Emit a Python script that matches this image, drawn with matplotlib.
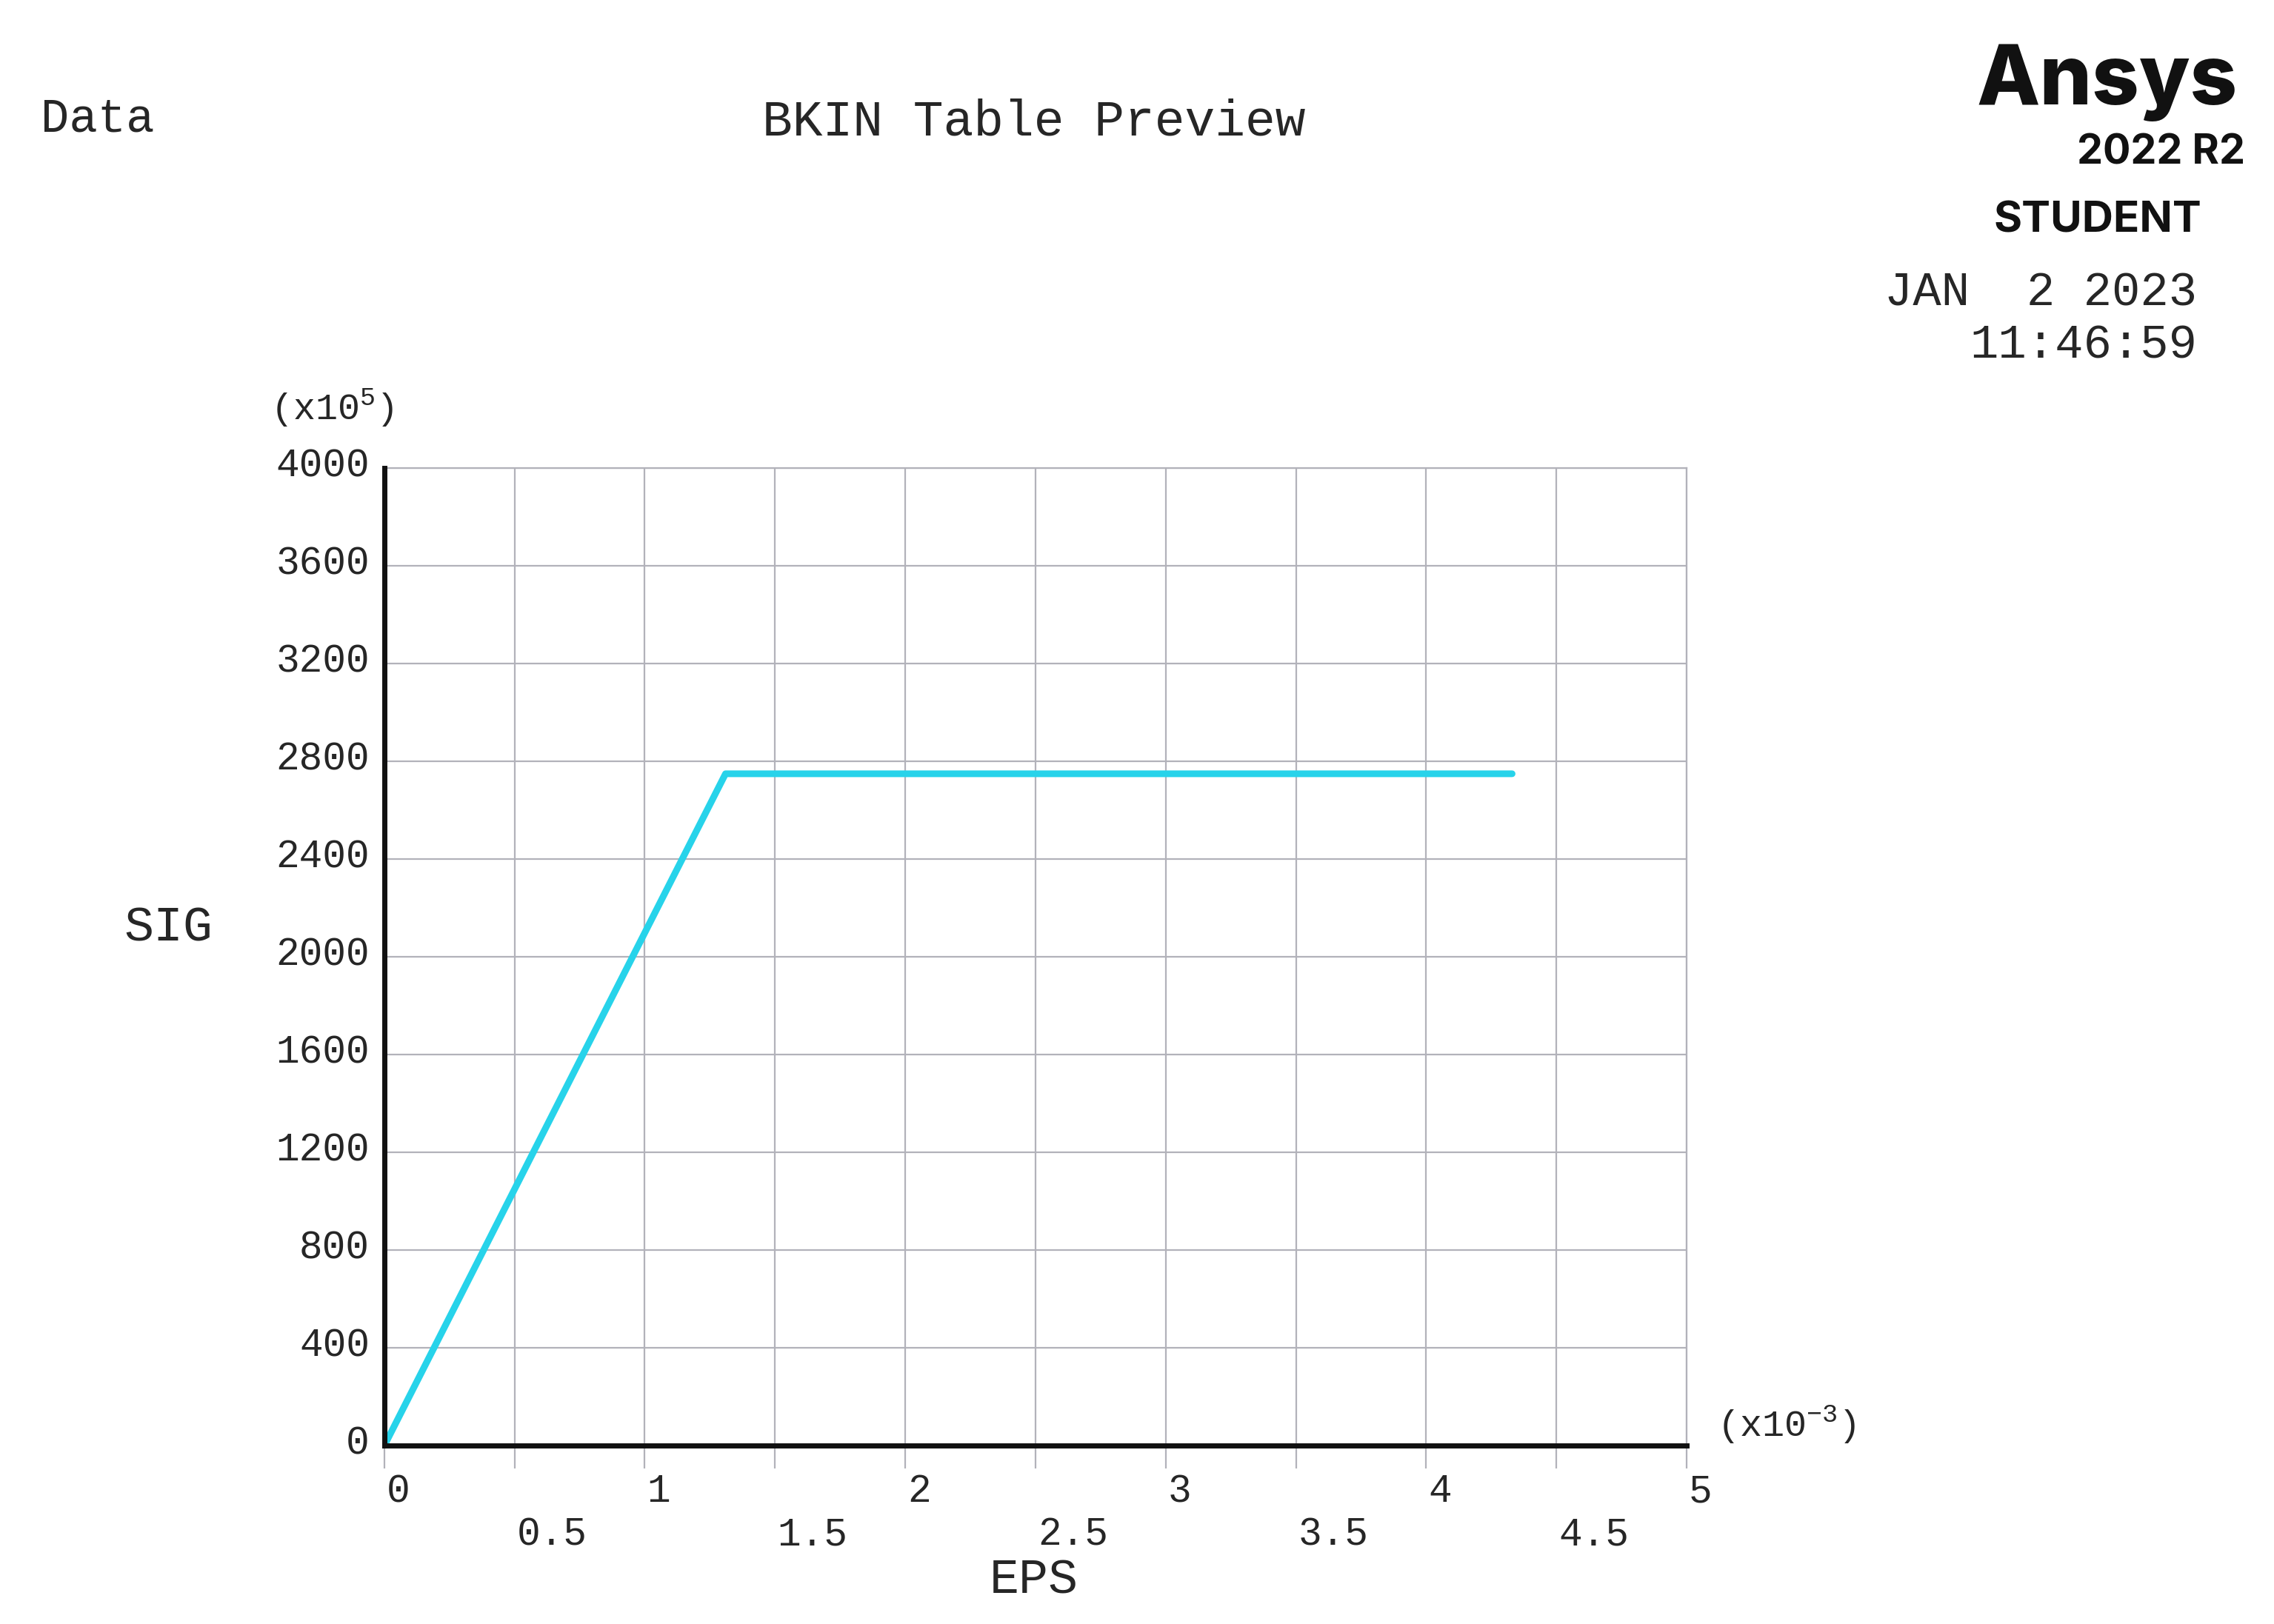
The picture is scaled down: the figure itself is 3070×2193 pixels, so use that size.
import matplotlib
matplotlib.use("Agg")
import matplotlib.pyplot as plt
from matplotlib.transforms import ScaledTranslation

# BKIN table points (EPS in 1e-3, SIG in 1e5)
eps = [0.0, 1.31, 4.33]
sig = [0.0, 2750.0, 2750.0]

x_major = [0, 1, 2, 3, 4, 5]
x_minor = [0.5, 1.5, 2.5, 3.5, 4.5]
x_major_labels = ["0", "1", "2", "3", "4", "5"]
x_minor_labels = ["0.5", "1.5", "2.5", "3.5", "4.5"]
y_ticks = [0, 400, 800, 1200, 1600, 2000, 2400, 2800, 3200, 3600, 4000]
y_labels = ["0", "400", "800", "1200", "1600", "2000", "2400", "2800", "3200", "3600", "4000"]

MONO = ["Liberation Mono", "DejaVu Sans Mono"]
TXT = "#262626"
GRID = "#b2b2ba"
CYAN = "#27d3ea"

plt.rcParams["mathtext.fontset"] = "custom"
plt.rcParams["mathtext.rm"] = "Liberation Mono"
plt.rcParams["mathtext.it"] = "Liberation Mono"

fig = plt.figure(figsize=(30.7, 21.93), dpi=100)
ax = fig.add_axes([0.1690, 0.1098, 0.7417 - 0.1690, 0.7116 - 0.1098])

ax.plot(eps, sig, color=CYAN, lw=6.5, solid_capstyle="round",
        solid_joinstyle="round", zorder=3)

ax.set_xlim(0, 5)
ax.set_ylim(0, 4000)

ax.set_xticks(x_major + x_minor)
ax.set_yticks(y_ticks)
ax.set_xticklabels([])
ax.set_yticklabels([])
ax.grid(True, color=GRID, lw=1.6, zorder=1)
ax.tick_params(axis="x", direction="out", length=22, width=1.6, color=GRID)
ax.tick_params(axis="y", length=0)

for side in ["left", "bottom"]:
    ax.spines[side].set_linewidth(5)
    ax.spines[side].set_color("#111111")
    ax.spines[side].set_zorder(4)
for side in ["top", "right"]:
    ax.spines[side].set_linewidth(1.6)
    ax.spines[side].set_color(GRID)

# tick labels, Ansys style: integers on first row, halves on second row,
# each starting at its grid line
xtr = ax.get_xaxis_transform() + ScaledTranslation(0.03, 0, fig.dpi_scale_trans)
for v, lab in zip(x_major, x_major_labels):
    ax.text(v, -0.047, lab, transform=xtr, ha="left", va="center",
            family=MONO, fontsize=38, color=TXT)
for v, lab in zip(x_minor, x_minor_labels):
    ax.text(v, -0.091, lab, transform=xtr, ha="left", va="center",
            family=MONO, fontsize=38, color=TXT)

ytr = ax.get_yaxis_transform() + ScaledTranslation(-0.2, 0.03, fig.dpi_scale_trans)
for v, lab in zip(y_ticks, y_labels):
    ax.text(0, v, lab, transform=ytr, ha="right", va="center",
            family=MONO, fontsize=38, color=TXT)

fig.text(0.146, 0.749, r"$\mathrm{(x10^{5})}$", ha="center", va="center",
         fontsize=36, color=TXT)
fig.text(0.7857, 0.123, r"$\mathrm{(x10^{-3})}$", ha="center", va="center",
         fontsize=36, color=TXT)

fig.text(0.074, 0.4286, "SIG", ha="center", va="center",
         family=MONO, fontsize=48, color=TXT)
fig.text(0.4547, 0.0268, "EPS", ha="center", va="center",
         family=MONO, fontsize=48, color=TXT)

fig.text(0.0179, 0.9268, "Data", ha="left", va="center",
         family=MONO, fontsize=46, color=TXT)
fig.text(0.4547, 0.925, "BKIN Table Preview", ha="center", va="center",
         family=MONO, fontsize=49, color=TXT)

# logo block
fig.text(0.984, 0.949, "Ansys", ha="right", va="center",
         family="Inter", fontweight="heavy", fontsize=80, color="#111111")
fig.text(0.9872, 0.906, "2022 R2", ha="right", va="center",
         family="Inter", fontweight="bold", fontsize=40, color="#111111")
fig.text(0.968, 0.864, "STUDENT", ha="right", va="center",
         family="Inter", fontweight="bold", fontsize=42, color="#111111")
fig.text(0.9662, 0.8196, "JAN  2 2023", ha="right", va="center",
         family=MONO, fontsize=46, color=TXT)
fig.text(0.9662, 0.7875, "11:46:59", ha="right", va="center",
         family=MONO, fontsize=46, color=TXT)

fig.savefig("out.png", dpi=100, facecolor="white")
